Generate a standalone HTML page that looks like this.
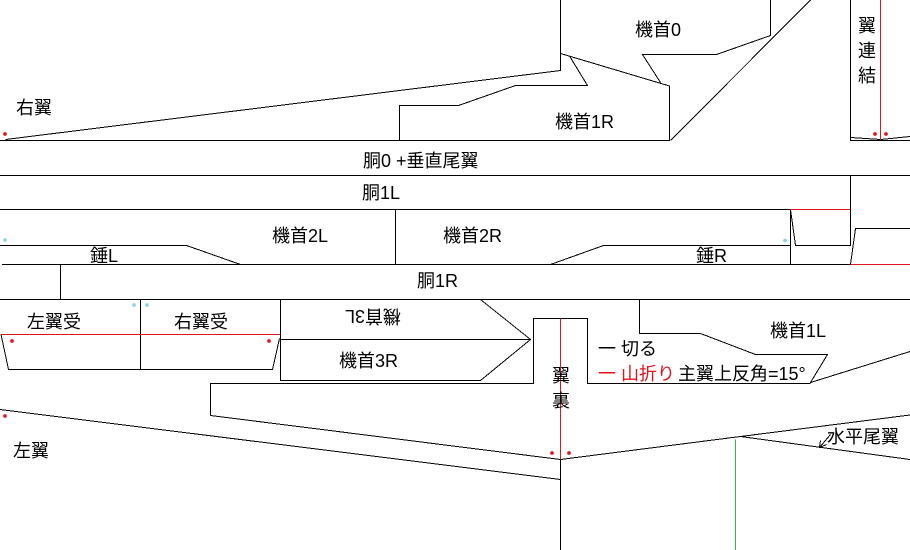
<!DOCTYPE html>
<html><head><meta charset="utf-8"><style>
html,body{margin:0;padding:0;background:#fff;}
#c{position:relative;width:910px;height:550px;overflow:hidden;background:#fff;}
svg{position:absolute;left:0;top:0;}
.t{position:absolute;font-family:"Liberation Sans","Noto Sans CJK JP",sans-serif;font-size:18px;line-height:18px;color:#000;white-space:nowrap;}
.v{position:absolute;font-family:"Liberation Sans","Noto Sans CJK JP",sans-serif;font-size:18px;line-height:25px;color:#000;width:20px;}
</style></head><body><div id="c">
<svg width="910" height="550" viewBox="0 0 910 550" shape-rendering="crispEdges">
<g stroke="#000" stroke-width="1" fill="none">
<polyline points="5.5,139.5 560.5,70.5 560.5,0"/>
<polyline points="0,140.5 669.5,140.5 669.5,86 560.5,53.5"/>
<polyline points="569.5,56 587.5,85.5 515.5,85.5 458.5,105.5 399.5,105.5 399.5,140"/>
<polyline points="660.5,82.5 642.5,54.5 716.5,54.5 770.5,35.5 770.5,0"/>
<line x1="810.5" y1="0" x2="670.5" y2="140.5"/>
<polyline points="850.5,0 850.5,140.5 910,140.5"/>
<polyline points="850.5,137.5 880.5,139.5 910,136.5"/>
<line x1="0" y1="175.5" x2="910" y2="175.5"/>
<line x1="0" y1="209.5" x2="790.5" y2="209.5"/>
<line x1="2" y1="264.5" x2="850.5" y2="264.5"/>
<line x1="0" y1="299.5" x2="910" y2="299.5"/>
<polyline points="0,245.5 186.5,245.5 240.5,264.5"/>
<polyline points="550.5,264.5 603.5,245.5 790.5,245.5"/>
<line x1="395.5" y1="209.5" x2="395.5" y2="264.5"/>
<line x1="60.5" y1="264.5" x2="60.5" y2="299.5"/>
<line x1="790.5" y1="209.5" x2="790.5" y2="264.5"/>
<polyline points="790.5,209.5 795.5,245.5 850.5,245.5 850.5,175.5"/>
<polyline points="850.5,264.5 855.5,228.5 910,228.5"/>
<polyline points="1,334.5 8.5,369.5 272.5,369.5 279.5,338.5"/>
<line x1="140.5" y1="299.5" x2="140.5" y2="369.5"/>
<polyline points="280.5,299.5 280.5,380.5 480.5,380.5 530.5,339.5 480.5,299.5"/>
<line x1="280.5" y1="339.5" x2="530.5" y2="339.5"/>
<polyline points="210.5,415.5 210.5,383.5 533.5,383.5 533.5,318.5 587.5,318.5 587.5,383.5 810.5,383.5"/>
<polyline points="639.5,299.5 639.5,333.5 700.5,333.5 755.5,354.5 827.5,354.5 810.5,382.5 910,351.5"/>
<line x1="0" y1="409.5" x2="560.5" y2="479.5"/>
<polyline points="210.5,415.5 560.5,459.5 740.5,436.5 910,415"/>
<line x1="740.5" y1="436.5" x2="910" y2="459.5"/>
<line x1="560.5" y1="459.5" x2="560.5" y2="550"/>
<line x1="830.5" y1="434.5" x2="819.5" y2="447.5"/>
<polyline points="820.5,440.5 819.5,447.5 826.5,444.5"/>
</g>
<g stroke="#e0141e" stroke-width="1" fill="none">
<line x1="880.5" y1="0" x2="880.5" y2="140"/>
<line x1="790.5" y1="209.5" x2="850.5" y2="209.5"/>
<line x1="850.5" y1="264.5" x2="910" y2="264.5"/>
<line x1="1" y1="334.5" x2="280.5" y2="334.5"/>
<line x1="560.5" y1="318.5" x2="560.5" y2="459.5"/>
</g>
<line x1="735.5" y1="439.5" x2="735.5" y2="550" stroke="#3cb04a" stroke-width="1"/>
<g fill="#e0141e">
<circle cx="5" cy="134" r="1.8"/><circle cx="875" cy="134" r="1.8"/><circle cx="886" cy="134" r="1.8"/>
<circle cx="12" cy="341" r="1.8"/><circle cx="269" cy="341" r="1.8"/><circle cx="5" cy="416" r="1.8"/>
<circle cx="552" cy="453" r="1.8"/><circle cx="569" cy="453" r="1.8"/>
</g>
<g fill="#8fd3e6">
<circle cx="5" cy="240" r="1.8"/><circle cx="785" cy="240.5" r="1.8"/>
<circle cx="134" cy="305" r="1.8"/><circle cx="147" cy="305" r="1.8"/>
</g>
</svg>
<div class="t" style="left:16px;top:99px;">右翼</div>
<div class="t" style="left:363px;top:152px;">胴0 +垂直尾翼</div>
<div class="t" style="left:635px;top:21px;">機首0</div>
<div class="t" style="left:555px;top:113px;">機首1R</div>
<div class="v" style="left:858px;top:14px;">翼<br>連<br>結</div>
<div class="t" style="left:362px;top:184px;">胴1L</div>
<div class="t" style="left:272px;top:227px;">機首2L</div>
<div class="t" style="left:443px;top:227px;">機首2R</div>
<div class="t" style="left:90px;top:247px;">錘L</div>
<div class="t" style="left:696px;top:247px;">錘R</div>
<div class="t" style="left:417px;top:272px;">胴1R</div>
<div class="t" style="left:27px;top:313px;">左翼受</div>
<div class="t" style="left:174px;top:313px;">右翼受</div>
<div class="t" style="left:345px;top:307px;transform:rotate(180deg);">機首3L</div>
<div class="t" style="left:339px;top:352px;">機首3R</div>
<div class="v" style="left:552px;top:364px;">翼<br>裏</div>
<div class="t" style="left:598px;top:340px;">一 切る</div>
<div class="t" style="left:598px;top:365px;color:#e0141e;">一 山折り</div>
<div class="t" style="left:678px;top:365px;">主翼上反角=15°</div>
<div class="t" style="left:770px;top:322px;">機首1L</div>
<div class="t" style="left:13px;top:442px;">左翼</div>
<div class="t" style="left:827px;top:428px;">水平尾翼</div>
</div></body></html>
